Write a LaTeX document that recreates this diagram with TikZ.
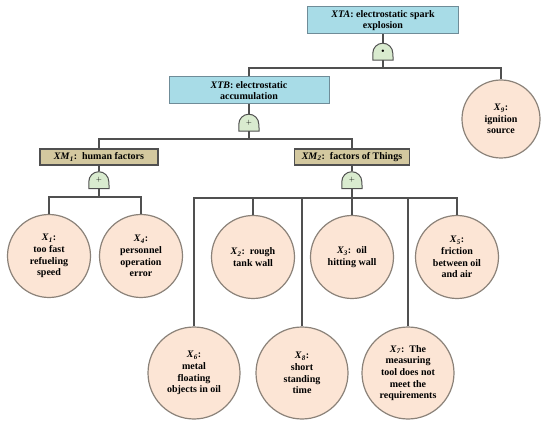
\documentclass[tikz,border=0pt]{standalone}
\usepackage{fontspec}
\setmainfont{Liberation Serif}
\usetikzlibrary{backgrounds}
\definecolor{topblue}{HTML}{A8DCE7}
\definecolor{topedge}{HTML}{6F8C98}
\definecolor{khaki}{HTML}{D3C89F}
\definecolor{peach}{HTML}{FCE5D5}
\definecolor{peachedge}{HTML}{8B8279}
\definecolor{gategreen}{HTML}{D9EBCF}
\definecolor{wire}{HTML}{505050}
\newcommand{\ev}[2]{\textit{#1}\textsubscript{\textit{#2}}}
\begin{document}
\begin{tikzpicture}[x=1pt, y=1pt,
    font=\fontsize{10}{11.7}\selectfont\bfseries,
    topevent/.style={rectangle, draw=topedge, line width=1pt, fill=topblue, align=center, minimum width=#1, minimum height=27pt, inner sep=1pt},
    midevent/.style={rectangle, draw=wire, line width=1.3pt, fill=khaki, align=center, minimum width=#1, minimum height=16pt, inner sep=1pt},
    basic/.style={circle, draw=peachedge, line width=1.2pt, fill=peach, align=center, minimum size=#1, inner sep=0pt},
    gatebox/.style={rectangle, minimum width=20pt, minimum height=17pt, inner sep=0pt, font=\scriptsize},
    wireline/.style={draw=wire, line width=1.3pt}]
  \useasboundingbox (0,0) rectangle (550,424);

  % events
  \node[topevent=151pt] (xta) at (383,403.5) {\textit{XTA}:~electrostatic spark\\explosion};
  \node[topevent=160pt] (xtb) at (249,333.5) {\textit{XTB}:~electrostatic\\accumulation};
  \node[midevent=118pt] (xm1) at (99,267) {\ev{XM}{1}:~~human factors};
  \node[midevent=115pt] (xm2) at (352,267) {\ev{XM}{2}:~~factors of Things};

  % gates
  \node[gatebox] (gA) at (383,372.5) {\tiny$\bullet$};
  \node[gatebox] (gB) at (249,301.5) {$+$};
  \node[gatebox] (g1) at (99,244) {$+$};
  \node[gatebox] (g2) at (352,244) {$+$};
  \begin{scope}[on background layer]
    \foreach \g in {gA,gB,g1,g2}
      \draw[draw=wire, line width=1pt, fill=gategreen] (\g.south west) -- ([yshift=7pt]\g.south west)
        arc[start angle=180, end angle=0, radius=10pt] -- (\g.south east) -- cycle;
  \end{scope}

  % basic events
  \node[basic=78pt] (x9) at (501,305) {\ev{X}{9}:\\ignition\\source};
  \node[basic=83pt] (x1) at (49,168) {\ev{X}{1}:\\too fast\\refueling\\speed};
  \node[basic=83pt] (x4) at (141,168) {\ev{X}{4}:\\personnel\\operation\\error};
  \node[basic=83pt] (x2) at (253,167) {\ev{X}{2}:~~rough\\tank wall};
  \node[basic=83pt] (x3) at (352,167) {\ev{X}{3}:~~oil\\hitting wall};
  \node[basic=83pt] (x5) at (457,167) {\ev{X}{5}:\\friction\\between oil\\and air};
  \node[basic=92pt] (x6) at (194,51) {\ev{X}{6}:\\metal\\floating\\objects in oil};
  \node[basic=92pt] (x8) at (302,51) {\ev{X}{8}:\\short\\standing\\time};
  \node[basic=92pt] (x7) at (408,51) {\ev{X}{7}:~~The\\measuring\\tool does not\\meet the\\requirements};

  % junctions
  \coordinate (jA) at (383,356);
  \coordinate (jB) at (249,285);
  \coordinate (j1) at (99,227);
  \coordinate (j2) at (352,226);

  \draw[wireline] (xta.south) -- (gA.north);
  \draw[wireline] (gA.south) -- (jA);
  \draw[wireline] (xtb.north) |- (jA) -| (x9.north);

  \draw[wireline] (xtb.south) -- (gB.north);
  \draw[wireline] (gB.south) -- (jB);
  \draw[wireline] (xm1.north) |- (jB) -| (xm2.north);

  \draw[wireline] (xm1.south) -- (g1.north);
  \draw[wireline] (g1.south) -- (j1);
  \draw[wireline] (x1.north) |- (j1) -| (x4.north);

  \draw[wireline] (xm2.south) -- (g2.north);
  \draw[wireline] (g2.south) -- (j2);
  \draw[wireline] (x6.north) |- (j2) -| (x5.north);
  \foreach \b in {x2,x8,x3,x7}
    \draw[wireline] (\b.north) -- (\b.north |- j2);
\end{tikzpicture}
\end{document}
